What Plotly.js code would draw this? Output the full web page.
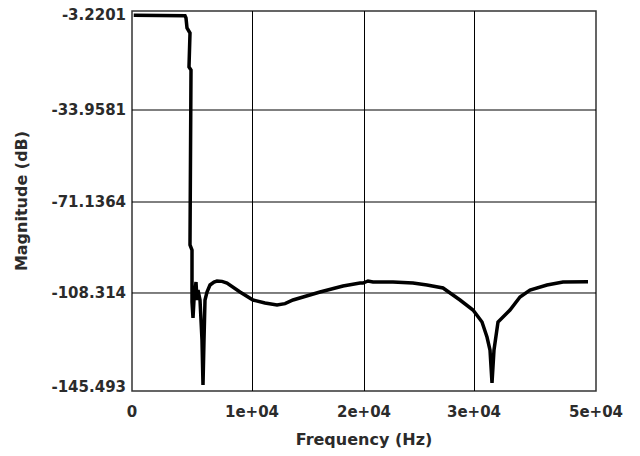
<!DOCTYPE html>
<html>
<head>
<meta charset="utf-8">
<script src="https://cdn.plot.ly/plotly-3.0.1.min.js"></script>
<style>html,body{margin:0;padding:0;background:#fff;}#chart{width:640px;height:456px;}</style>
</head>
<body>
<div id="chart"></div>
<script>
// Frequency response samples
const freqHz = [150, 2241, 4310, 4569, 4655, 4741, 5000, 4914, 5086, 5000, 5172, 5172, 5259, 5345, 5517, 5603, 5690, 5862, 6034, 6121, 6207, 6293, 6466, 6724, 7069, 7328, 7759, 8190, 9310, 10431, 11466, 11983, 12500, 13190, 13879, 16207, 18190, 19655, 19914, 20345, 20776, 22500, 24224, 25431, 26810, 28276, 29397, 30172, 30603, 30862, 31035, 31207, 31552, 32586, 33448, 34310, 35776, 37155, 39310];
const magDb = [-3.35, -3.35, -3.35, -3.50, -4.37, -8.19, -10.10, -23.11, -24.25, -91.18, -93.10, -112.98, -119.10, -112.22, -105.33, -112.22, -108.40, -112.22, -127.52, -144.73, -127.52, -112.22, -109.16, -106.48, -105.33, -104.94, -105.10, -105.72, -109.16, -112.22, -113.37, -113.90, -114.13, -113.60, -112.22, -109.16, -106.87, -105.72, -105.72, -104.94, -105.33, -105.33, -105.72, -106.48, -107.63, -112.22, -116.04, -120.63, -126.37, -131.34, -143.96, -131.34, -120.63, -116.04, -111.07, -108.40, -106.48, -105.33, -105.20];

// Axis tick labels as printed
const xTickVals = [0, 10345, 20000, 29483, 40000];
const xTickText = ['0', '1e+04', '2e+04', '3e+04', '5e+04'];
const yTickVals = [-3.2201, -39.553, -74.739, -109.54, -145.493];
const yTickText = ['-3.2201', '-33.9581', '-71.1364', '-108.314', '-145.493'];
const yGridVals = yTickVals.slice(1, 4);

const fontFam = '"DejaVu Sans", sans-serif';
const txtColor = '#2b2b2b';
const tickFont = {family: fontFam, size: 15, color: txtColor, weight: 'bold'};
const titleFont = {family: fontFam, size: 16, color: txtColor, weight: 'bold'};

const shapes = [{
  type: 'rect', xref: 'paper', yref: 'paper', x0: 0, x1: 1, y0: 0, y1: 1,
  line: {color: '#333', width: 1.5}, layer: 'below'
}];
yGridVals.forEach(v => shapes.push({
  type: 'line', xref: 'paper', yref: 'y', x0: 0, x1: 1, y0: v, y1: v,
  line: {color: '#000', width: 1}, layer: 'below'
}));

const data = [{
  type: 'scatter', mode: 'lines', x: freqHz, y: magDb,
  line: {color: '#000', width: 3.5, shape: 'linear'},
  hoverinfo: 'skip'
}];

const layout = {
  width: 640, height: 456,
  margin: {l: 132, r: 44, t: 11, b: 65, pad: 0},
  paper_bgcolor: '#fff', plot_bgcolor: '#fff',
  showlegend: false,
  font: {family: fontFam, size: 15, color: txtColor},
  xaxis: {
    range: [0, 40000], tickvals: xTickVals, ticktext: xTickText,
    showgrid: true, gridcolor: '#000', gridwidth: 1, zeroline: false,
    showline: false, ticks: 'outside', ticklen: 7, tickcolor: 'rgba(0,0,0,0)',
    tickfont: tickFont,
    title: {text: 'Frequency (Hz)', standoff: 13, font: titleFont}
  },
  yaxis: {
    range: [-147.023, -1.6903], tickvals: yTickVals, ticktext: yTickText,
    showgrid: false, zeroline: false, showline: false,
    ticks: 'outside', ticklen: 2, tickcolor: 'rgba(0,0,0,0)',
    tickfont: tickFont,
    title: {text: 'Magnitude (dB)', standoff: 19, font: titleFont}
  },
  shapes: shapes
};

Plotly.newPlot('chart', data, layout, {staticPlot: true, displayModeBar: false});
</script>
</body>
</html>
